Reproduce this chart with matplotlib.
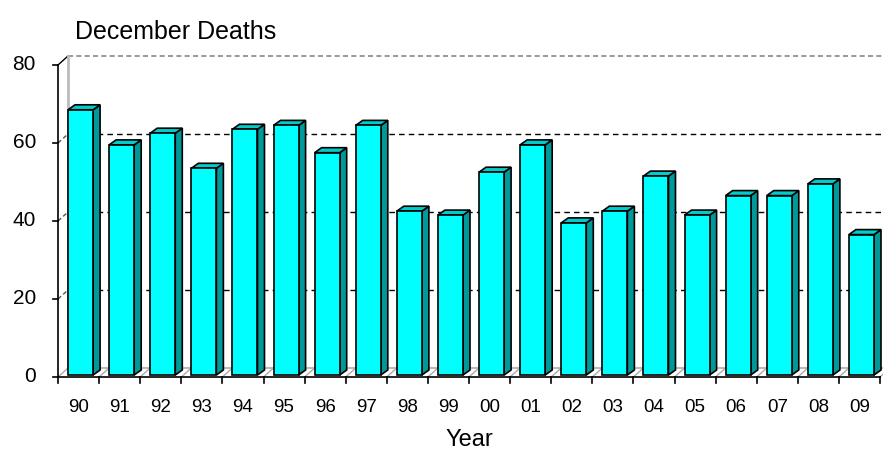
import matplotlib.pyplot as plt
from matplotlib.patches import Polygon

plt.rcParams["font.family"] = ["Liberation Sans", "DejaVu Sans"]

# data
years = ["90", "91", "92", "93", "94", "95", "96", "97", "98", "99",
         "00", "01", "02", "03", "04", "05", "06", "07", "08", "09"]
deaths = [68, 59, 62, 53, 63, 64, 57, 64, 42, 41,
          52, 59, 39, 42, 51, 41, 46, 46, 49, 36]
y_ticks = [0, 20, 40, 60, 80]

W, H = 883, 450
fig = plt.figure(figsize=(W / 100, H / 100), dpi=100)
# front plane of the 3d box in pixels
x0, x1, y0, y1 = 58, 880, 377, 65
ax = fig.add_axes([x0 / W, (H - y0) / H, (x1 - x0) / W, (y0 - y1) / H])
n = len(years)
ax.set_xlim(-0.5, n - 0.5)
ax.set_ylim(0, 80)
ax.axis("off")

px_x = n / (x1 - x0)      # data units per pixel
px_y = 80 / (y0 - y1)

# wall offset (depth of the box)
wdx, wdy = 10 * px_x, 9 * px_y
# bar depth and shift of the front face
bdx, bdy = 7 * px_x, 5 * px_y
sx, sy = 2 * px_x, 2 * px_y
bw = 0.61

L, R = -0.5, n - 0.5

# back wall gridlines
for t in y_ticks[1:-1]:
    ax.plot([L + wdx, R + wdx], [t + wdy, t + wdy], color="black", lw=1,
            ls=(0, (4, 3)), zorder=1, clip_on=False)
    ax.plot([L, L + wdx], [t, t + wdy], color="#555555", lw=1, ls=(0, (3, 2)),
            zorder=1, clip_on=False)
ax.plot([L + wdx, R + wdx], [80 + wdy, 80 + wdy], color="#888888", lw=1.2,
        ls=(0, (3, 2)), zorder=1, clip_on=False)
ax.plot([L, L + wdx], [80, 80 + wdy], color="black", lw=1, zorder=1, clip_on=False)
ax.plot([L + wdx, L + wdx], [wdy, 80 + wdy], color="#bbbbbb", lw=2, zorder=1,
        clip_on=False)
ax.plot([L + wdx, R + wdx], [wdy, wdy], color="#bbbbbb", lw=1.5, zorder=1,
        clip_on=False)

# floor lines at category boundaries
for i in range(n + 1):
    b = i - 0.5
    ax.plot([b, b + wdx], [0, wdy], color="#aaaaaa", lw=1, zorder=1, clip_on=False)

# front axes
ax.plot([L, L], [0, 80], color="black", lw=1.2, zorder=5, clip_on=False)
ax.plot([L, R], [0, 0], color="black", lw=1.2, zorder=5, clip_on=False)
for t in y_ticks:
    ax.plot([L - 5 * px_x, L], [t, t], color="black", lw=1.2, zorder=5, clip_on=False)
    ax.text(L - 22 * px_x, t, str(t), ha="right", va="center", fontsize=15)
for i in range(n + 1):
    b = i - 0.5
    ax.plot([b, b], [0, -6 * px_y], color="black", lw=1.2, zorder=5, clip_on=False)
for i, lab in enumerate(years):
    ax.text(i, -31 * px_y, lab, ha="center", va="center", fontsize=13.5)

# bars
for i, v in enumerate(deaths):
    a, b = i - bw / 2 + sx, i + bw / 2 + sx
    top = v + sy
    side = [(b, sy), (b + bdx, sy + bdy), (b + bdx, top + bdy), (b, top)]
    cap = [(a, top), (b, top), (b + bdx, top + bdy), (a + bdx, top + bdy)]
    front = [(a, sy), (b, sy), (b, top), (a, top)]
    for pts, col in [(side, "#009999"), (cap, "#00cccc"), (front, "#00ffff")]:
        ax.add_patch(Polygon(pts, closed=True, facecolor=col, edgecolor="black",
                             lw=1.2, joinstyle="miter", zorder=3, clip_on=False))

fig.text(75 / W, 1 - 32 / H, "December Deaths", ha="left", va="center", fontsize=18)
fig.text(469 / W, 1 - 440 / H, "Year", ha="center", va="center", fontsize=17)

fig.savefig("out.png", dpi=100)
